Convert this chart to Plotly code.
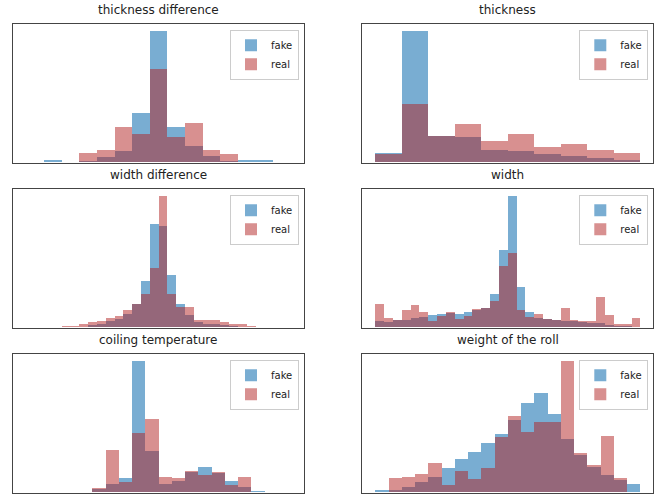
import plotly.graph_objects as go

# ---------------- data (relative bin counts) ----------------
titles = ["thickness difference", "thickness", "width difference",
          "width", "coiling temperature", "weight of the roll"]

thick_diff_fake = [0, 1.5, 0, 1, 3.8, 8.4, 37.7, 100, 26.7, 12.7, 4.6, 1.3, 1.5, 1.5, 0]
thick_diff_real = [0, 0, 0, 7.1, 9.4, 27, 21.4, 70.7, 19.1, 30, 9.4, 6.4, 0, 0, 0]

thick_fake = [6.9, 100, 20.4, 19.6, 9.4, 8.4, 6.1, 5.1, 3.0, 1.8]
thick_real = [6.1, 44.5, 20.1, 29.3, 16.0, 21.6, 11.7, 14.0, 9.4, 7.1]

width_diff_fake = [0, 0, 0, 0, 0, 0, 0.5, 1.5, 2.5, 5.1, 6.6, 10.4, 17.8, 35.4, 78.1,
                   77, 39.7, 17.8, 9.7, 4, 2.5, 2.5, 1.5, 1, 0.5, 0, 0, 0, 0, 0]
width_diff_real = [0, 0, 0, 0, 1, 1, 2.5, 3.8, 5.1, 7.1, 8.4, 13.5, 17.8, 25.4, 45.3,
                   100, 25, 15.3, 15.3, 5.9, 5.9, 5.9, 3.8, 2.5, 2.5, 1, 0, 0, 0, 0]

width_fake = [5.1, 4, 5.3, 5.9, 7.1, 8.1, 9.4, 10.4, 10.7, 10.4, 11.7, 13.2, 14.8, 25.4, 58.5,
              100, 31, 11.7, 7.4, 6.1, 5.6, 5.1, 4.6, 4, 3.3, 3, 2, 1.3, 0.8, 0.5]
width_real = [18.1, 7.1, 5.9, 13.5, 17, 11.7, 5.1, 8.4, 11.7, 6.6, 8.4, 13.7, 15, 19.8, 46.3,
              56.2, 13, 8.1, 9.9, 6.4, 5.9, 14.8, 5.9, 4.8, 4.8, 23.4, 9.4, 2.5, 2.5, 7.1]

coil_fake = [0, 0, 0, 0, 0, 2.3, 6.7, 11, 100, 31.7, 6.7, 8.7, 15.6, 19, 14.8, 8.7, 4.4, 1.3, 0, 0]
coil_real = [0, 0, 0, 0, 0, 3.3, 32, 7.7, 45, 56, 12, 11, 16.6, 13.3, 15.6, 5.4, 12, 0, 0, 0]

weight_fake = [2, 2, 4.4, 7.7, 12, 18.7, 25, 30.7, 37.4, 44, 55.3, 68, 75.7, 59.3, 40.7,
               28, 19.4, 13, 9.7, 6.4]
weight_real = [0, 11, 12, 14.3, 22, 5.4, 16.6, 10, 18.7, 41.7, 57.8, 46, 53.5, 53.5, 100,
               29.7, 20.5, 43, 11, 0]

series = [
    (thick_diff_fake, thick_diff_real),
    (thick_fake, thick_real),
    (width_diff_fake, width_diff_real),
    (width_fake, width_real),
    (coil_fake, coil_real),
    (weight_fake, weight_real),
]
series_names = ["fake", "real"]

# ---------------- styling ----------------
W, H = 670, 495
col_px = [(12.7, 304.0), (361.7, 653.3)]
row_px = [(24.3, 162.7), (189.3, 327.7), (354.3, 492.7)]
fake_color = "rgba(31,119,180,0.6)"
real_color = "rgba(178,34,34,0.5)"
colors = [fake_color, real_color]
FONT = "DejaVu Sans"

fig = go.Figure()
annotations = []
layout_updates = {}

for k, (fake, real) in enumerate(series):
    r, c = divmod(k, 2)
    x0, x1 = col_px[c]
    t, b = row_px[r]
    n = len(fake)
    ax = "" if k == 0 else str(k + 1)
    leg = "legend" if k == 0 else f"legend{k + 1}"
    centers = [i + 0.5 for i in range(n)]
    for vals, name, col in zip((fake, real), series_names, colors):
        fig.add_trace(go.Bar(
            x=centers, y=vals, width=[1.0] * n, name=name,
            marker=dict(color=col, line=dict(width=0)),
            xaxis="x" + ax, yaxis="y" + ax, legend=leg,
            hoverinfo="skip",
        ))
    ymax = max(max(fake), max(real))
    axis_common = dict(showticklabels=False, ticks="", showgrid=False, zeroline=False,
                       showline=True, mirror=True, linecolor="#444", linewidth=1)
    layout_updates["xaxis" + ax] = dict(
        domain=[x0 / W, x1 / W], range=[-0.05 * n, 1.05 * n],
        anchor="y" + ax, **axis_common)
    layout_updates["yaxis" + ax] = dict(
        domain=[1 - b / H, 1 - t / H], range=[0, 1.05 * ymax],
        anchor="x" + ax, **axis_common)
    layout_updates[leg] = dict(
        x=(x1 - 5) / W, y=1 - (t + 5.5) / H, xanchor="right", yanchor="top",
        bgcolor="rgba(255,255,255,0.8)", bordercolor="#cccccc", borderwidth=1,
        font=dict(family=FONT, size=10, color="#222"), itemwidth=30,
        tracegroupgap=0)
    annotations.append(dict(
        text=titles[k], x=(x0 + x1) / 2 / W, y=1 - (t - 14) / H,
        xref="paper", yref="paper", xanchor="center", yanchor="middle",
        showarrow=False, font=dict(family=FONT, size=12, color="#222")))

fig.update_layout(
    width=W, height=H, margin=dict(l=0, r=0, t=0, b=0),
    paper_bgcolor="white", plot_bgcolor="white",
    barmode="overlay", bargap=0, showlegend=True,
    annotations=annotations, font=dict(family=FONT),
    **layout_updates,
)

fig.write_html("out.html", config={"displayModeBar": False},
               post_script="document.body.style.margin='0';document.body.style.overflow='hidden';")
